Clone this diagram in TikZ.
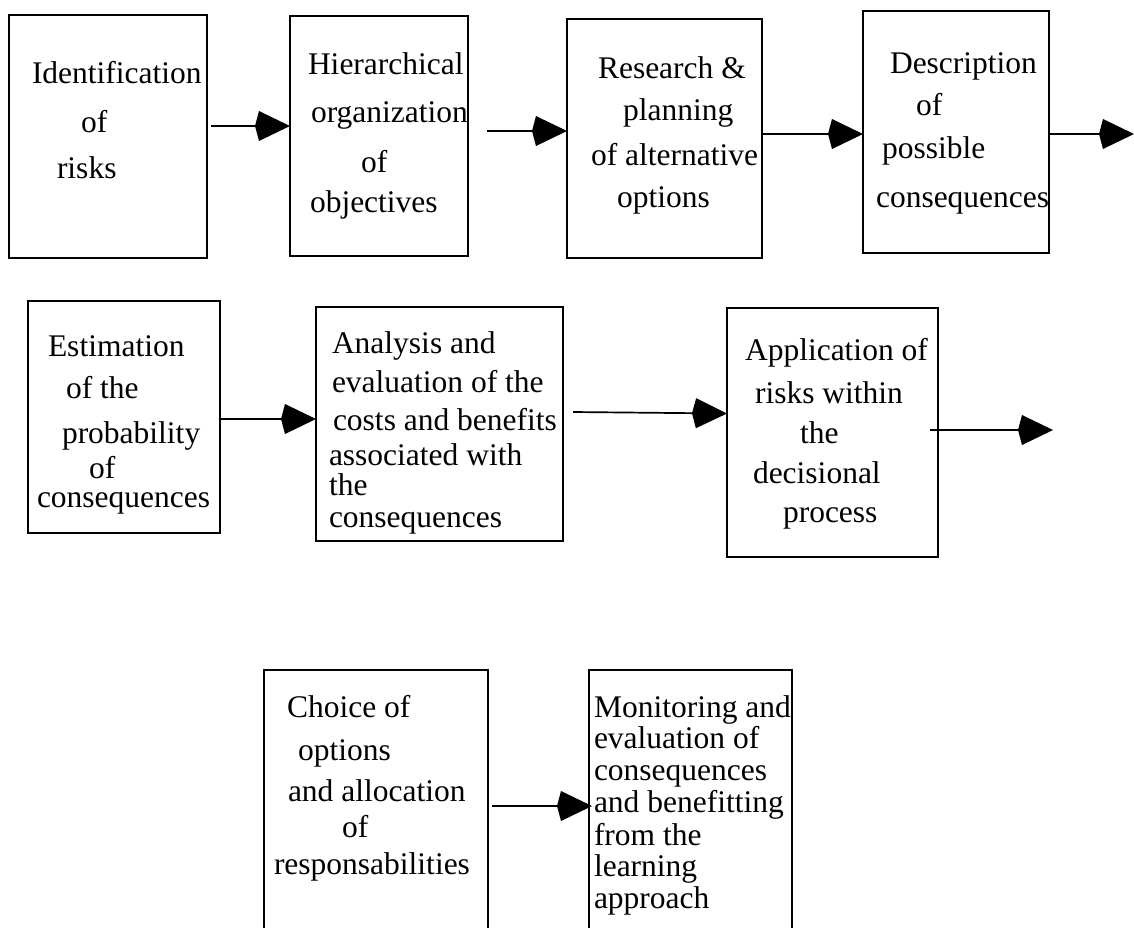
\documentclass[tikz,border=0pt]{standalone}
\usepackage{fontspec}
\setmainfont{Liberation Serif}
\usetikzlibrary{arrows.meta}
\tikzset{
  box/.style={draw=black, line width=1.7pt, fill=none, inner sep=0pt, outer sep=0pt},
  txt/.style={anchor=base west, inner sep=0pt, outer sep=0pt, font=\fontsize{31.5}{34}\selectfont},
  arr/.style={line width=1.7pt, -{Kite[length=35pt,width=30pt,inset=4pt]}}
}
\newcommand\mkbox[5]{\node[box, minimum width=#4pt-#2pt, minimum height=#5pt-#3pt] (#1) at ({(#2+#4)/2},{(#3+#5)/2}) {};}
\begin{document}
\begin{tikzpicture}[x=1pt,y=-1pt]
\useasboundingbox (0,0) rectangle (1134,927);
\fill[white] (0,0) rectangle (1134,927);
\clip (0,0) rectangle (1134,927);
% boxes
\mkbox{b1}{9}{15}{207}{258}
\mkbox{b2}{290}{16}{468}{256}
\mkbox{b3}{567}{19}{762}{258}
\mkbox{b4}{863}{11}{1049}{253}
\mkbox{b5}{28}{301}{220}{533}
\mkbox{b6}{316}{307}{563}{541}
\mkbox{b7}{727}{308}{938}{557}
\mkbox{b8}{264}{670}{488}{960}
\mkbox{b9}{589}{670}{792}{960}
% texts
\foreach \x/\y/\t [count=\i] in {32/83/Identification, 81/132/of, 57/178/risks}
  \node[txt] (b1t\i) at (\x,\y) {\t};
\foreach \x/\y/\t [count=\i] in {308/74/Hierarchical, 311/122/organization, 361/172/of, 310/212/objectives}
  \node[txt] (b2t\i) at (\x,\y) {\t};
\foreach \x/\y/\t [count=\i] in {598/78/Research \&, 623/120/planning, 591/165/of alternative, 617/207/options}
  \node[txt] (b3t\i) at (\x,\y) {\t};
\foreach \x/\y/\t [count=\i] in {890/73/Description, 916/115/of, 882/158/possible, 876/207/consequences}
  \node[txt] (b4t\i) at (\x,\y) {\t};
\foreach \x/\y/\t [count=\i] in {48/356/Estimation, 66/398/of the, 62/443/probability, 89/478/of, 37/507/consequences}
  \node[txt] (b5t\i) at (\x,\y) {\t};
\foreach \x/\y/\t [count=\i] in {332/353/Analysis and, 332/392/evaluation of the, 333/430/costs and benefits, 329/465/associated with, 329/495/the, 329/527/consequences}
  \node[txt] (b6t\i) at (\x,\y) {\t};
\foreach \x/\y/\t [count=\i] in {745/360/Application of, 755/403/risks within, 800/443/the, 753/483/decisional, 783/522/process}
  \node[txt] (b7t\i) at (\x,\y) {\t};
\foreach \x/\y/\t [count=\i] in {287/717/Choice of, 298/760/options, 288/801/and allocation, 342/837/of, 274/874/responsabilities}
  \node[txt] (b8t\i) at (\x,\y) {\t};
\foreach \x/\y/\t [count=\i] in {594/717/Monitoring and, 594/748/evaluation of, 594/780/consequences, 594/812/and benefitting, 594/845/from the, 594/876/learning, 594/908/approach}
  \node[txt] (b9t\i) at (\x,\y) {\t};
% connectors
\coordinate (a1s) at (211,126);
\coordinate (a2s) at (487,131);
\coordinate (a3s) at (762,134);
\coordinate (a4s) at (1048,134);
\coordinate (a4e) at (1134,134);
\coordinate (a5s) at (221,419);
\coordinate (a6s) at (573,412);
\coordinate (a7s) at (930,430);
\coordinate (a7e) at (1053,430);
\coordinate (a8s) at (492,806);
\draw[arr] (a1s) -- (b2.west |- a1s);
\draw[arr] (a2s) -- (b3.west |- a2s);
\draw[arr] (a3s) -- (b4.west |- a3s);
\draw[arr] (a4s) -- (a4e);
\draw[arr] (a5s) -- (b6.west |- a5s);
\draw[arr] (a6s) -- ([yshift=-1.5pt]b7.west |- a6s);
\draw[arr] (a7s) -- (a7e);
\draw[arr] (a8s) -- ([xshift=3pt]b9.west |- a8s);
\end{tikzpicture}
\end{document}
